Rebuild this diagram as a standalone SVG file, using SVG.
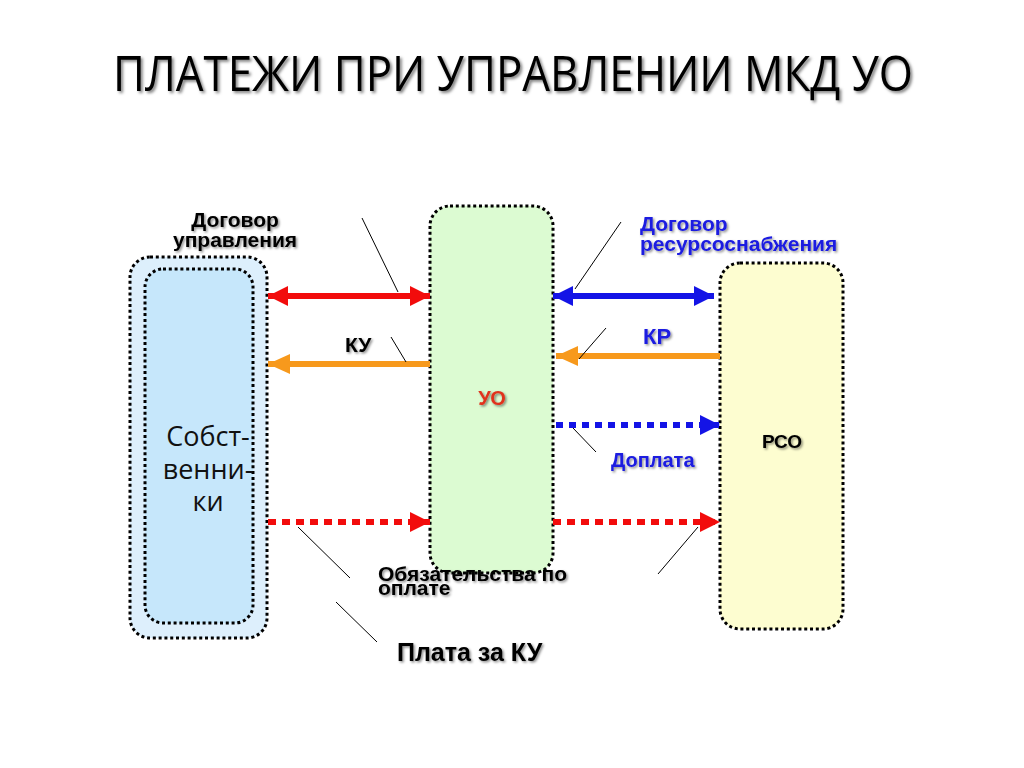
<svg xmlns="http://www.w3.org/2000/svg" width="1024" height="768" viewBox="0 0 1024 768">
<defs>
<style>
.box{stroke:#000;stroke-width:3;stroke-dasharray:3 2.8;}
.lbl{font-family:"Liberation Sans",Arial,sans-serif;font-weight:bold;}
.lead{stroke:#000;stroke-width:1;fill:none;}
.cal{font-family:"Open Sans","Liberation Sans",sans-serif;}
</style>
<filter id="sh" x="-10%" y="-30%" width="120%" height="160%">
<feDropShadow dx="1.5" dy="1.5" stdDeviation="0.8" flood-color="#000" flood-opacity="0.45"/>
</filter>
<filter id="sh2" x="-10%" y="-30%" width="120%" height="160%">
<feDropShadow dx="2" dy="2" stdDeviation="1.5" flood-color="#000" flood-opacity="0.5"/>
</filter>
<marker id="hr" viewBox="0 0 20 20" refX="20" refY="10" markerWidth="20" markerHeight="20" markerUnits="userSpaceOnUse" orient="auto-start-reverse"><path d="M0,0 L20,10 L0,20 z" fill="#f20c0c"/></marker>
<marker id="ho" viewBox="0 0 22 20" refX="22" refY="10" markerWidth="22" markerHeight="20" markerUnits="userSpaceOnUse" orient="auto-start-reverse"><path d="M0,0 L22,10 L0,20 z" fill="#f7991c"/></marker>
<marker id="hb" viewBox="0 0 20 20" refX="20" refY="10" markerWidth="20" markerHeight="20" markerUnits="userSpaceOnUse" orient="auto-start-reverse"><path d="M0,0 L20,10 L0,20 z" fill="#1414e6"/></marker>
</defs>
<rect width="1024" height="768" fill="#fff"/>

<text x="513" y="91" text-anchor="middle" class="cal" font-size="50" fill="#000" textLength="800" lengthAdjust="spacingAndGlyphs" filter="url(#sh2)">ПЛАТЕЖИ ПРИ УПРАВЛЕНИИ МКД УО</text>

<g id="owners">
<rect class="box" x="130" y="257" width="137" height="381" rx="20" fill="#ddeffc"/>
<rect class="box" x="145" y="269" width="108" height="354" rx="18" fill="#c6e7fb"/>
<text class="cal" font-size="27" text-anchor="middle" fill="#111"><tspan x="208" y="446">Собст-</tspan><tspan x="208" y="479">венни-</tspan><tspan x="208" y="511">ки</tspan></text>
</g>

<g id="uo">
<rect class="box" x="430" y="206" width="123" height="367" rx="20" fill="#dcfbd2"/>
<text class="lbl" x="492" y="405" font-size="20" text-anchor="middle" fill="#e0321c" filter="url(#sh)">УО</text>
</g>

<g id="rso">
<rect class="box" x="720" y="263" width="123" height="366" rx="20" fill="#fdfdd0"/>
<text class="lbl" x="782" y="448" font-size="19" text-anchor="middle" fill="#000" filter="url(#sh)">РСО</text>
</g>

<g id="connectors">
<line x1="268" y1="296" x2="430" y2="296" stroke="#f20c0c" stroke-width="6" marker-start="url(#hr)" marker-end="url(#hr)"/>
<line x1="430" y1="364" x2="268" y2="364" stroke="#f7991c" stroke-width="6" marker-end="url(#ho)"/>
<line x1="553" y1="296" x2="714" y2="296" stroke="#1414e6" stroke-width="6" marker-start="url(#hb)" marker-end="url(#hb)"/>
<line x1="720" y1="356" x2="556" y2="356" stroke="#f7991c" stroke-width="6" marker-end="url(#ho)"/>
<line x1="556" y1="425" x2="720" y2="425" stroke="#1414e6" stroke-width="6" stroke-dasharray="7 6" marker-end="url(#hb)"/>
<line x1="268" y1="522" x2="430" y2="522" stroke="#f20c0c" stroke-width="6" stroke-dasharray="8 6" marker-end="url(#hr)"/>
<line x1="553" y1="522" x2="720" y2="522" stroke="#f20c0c" stroke-width="6" stroke-dasharray="8 6" marker-end="url(#hr)"/>

<line class="lead" x1="362" y1="218" x2="398" y2="292"/>
<line class="lead" x1="391" y1="337" x2="406" y2="362"/>
<line class="lead" x1="621" y1="222" x2="575" y2="289"/>
<line class="lead" x1="606" y1="328" x2="579" y2="359"/>
<line class="lead" x1="573" y1="428" x2="596" y2="452"/>
<line class="lead" x1="298" y1="527" x2="350" y2="578"/>
<line class="lead" x1="336" y1="602" x2="377" y2="642"/>
<line class="lead" x1="698" y1="527" x2="658" y2="574"/>
</g>

<g id="labels" filter="url(#sh)">
<text class="lbl" font-size="21" text-anchor="middle" fill="#000"><tspan x="235" y="227">Договор</tspan><tspan x="235" y="247">управления</tspan></text>
<text class="lbl" x="345" y="352" font-size="21" fill="#000">КУ</text>
<text class="lbl" font-size="21" fill="#1a1ae0"><tspan x="640" y="231">Договор</tspan><tspan x="640" y="251">ресурсоснабжения</tspan></text>
<text class="lbl" x="643" y="344" font-size="22" fill="#1a1ae0">КР</text>
<text class="lbl" x="611" y="467" font-size="20" fill="#1a1ae0">Доплата</text>
<text class="lbl" font-size="21" fill="#000"><tspan x="378" y="581">Обязательства по</tspan><tspan x="378" y="595">оплате</tspan></text>
<text class="lbl" x="397" y="661" font-size="25" fill="#000">Плата за КУ</text>
</g>
</svg>
